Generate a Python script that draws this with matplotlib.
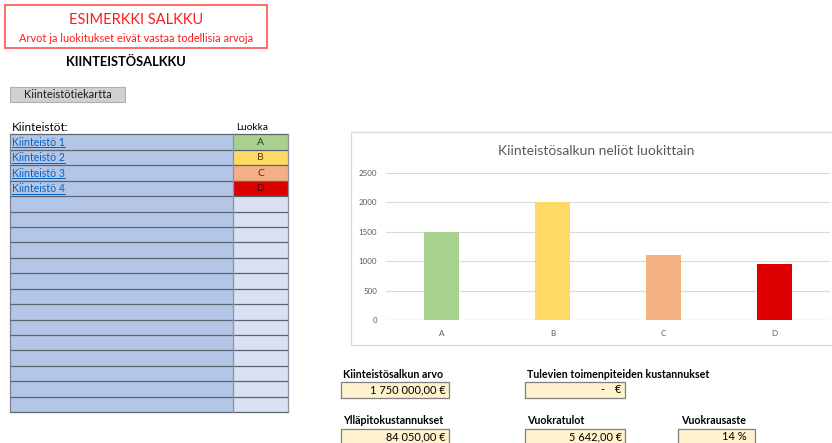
import matplotlib
matplotlib.use("Agg")
import matplotlib.pyplot as plt
from matplotlib.patches import Rectangle

plt.rcParams['font.family'] = ['Lato', 'DejaVu Sans']

# ---- data ----
categories = ['A', 'B', 'C', 'D']
area_values = [1500, 2000, 1100, 950]
bar_colors = ['#A9D18E', '#FFD966', '#F4B183', '#DE0000']
yticks = [0, 500, 1000, 1500, 2000, 2500]

property_names = ['Kiinteistö 1', 'Kiinteistö 2', 'Kiinteistö 3', 'Kiinteistö 4']
property_classes = ['A', 'B', 'C', 'D']
class_fill = {'A': '#A9D08E', 'B': '#FFD966', 'C': '#F4B084', 'D': '#DD0000'}
class_text = {'A': '#1F3A10', 'B': '#5A4500', 'C': '#5A2A10', 'D': '#5A0000'}
n_rows = 18

kpi_labels = ['Kiinteistösalkun arvo', 'Tulevien toimenpiteiden kustannukset',
              'Ylläpitokustannukset', 'Vuokratulot', 'Vuokrausaste']
kpi_values = ['1 750 000,00 €', '-', '84 050,00 €', '5 642,00 €', '14 %']

chart_title = 'Kiinteistösalkun neliöt luokittain'

# ---- figure ----
W, H = 832, 443
fig = plt.figure(figsize=(W / 100, H / 100), dpi=100)
bg = fig.add_axes([0, 0, 1, 1])
bg.set_xlim(0, W)
bg.set_ylim(H, 0)
bg.axis('off')

# red example box
bg.add_patch(Rectangle((5, 5), 262, 43, facecolor='white', edgecolor='#FF5050', lw=1.2))
bg.text(136, 20, 'ESIMERKKI SALKKU', color='#FF1A1A', fontsize=10.5, ha='center', va='center')
bg.text(136, 38.5, 'Arvot ja luokitukset eivät vastaa todellisia arvoja', color='#FF1A1A',
        fontsize=7.9, ha='center', va='center')

bg.text(126, 62, 'KIINTEISTÖSALKKU', fontsize=9.3, fontweight='bold', ha='center', va='center')

# button
bg.add_patch(Rectangle((10, 87), 115, 15, facecolor='#D0D0D0', edgecolor='#B0B0B0', lw=0.8))
bg.text(67.5, 94.8, 'Kiinteistötiekartta', fontsize=7.9, ha='center', va='center', color='#1A1A1A')

# table
tx0, tx1, tx2 = 10, 233, 288
ty0 = 134.3
rh = 15.44
bg.text(12, 127, 'Kiinteistöt:', fontsize=8.5, ha='left', va='center')
bg.text(252, 127, 'Luokka', fontsize=7.3, ha='center', va='center')
for i in range(n_rows):
    y = ty0 + i * rh
    bg.add_patch(Rectangle((tx0, y), tx1 - tx0, rh, facecolor='#B4C6E7', edgecolor='none'))
    if i < len(property_classes):
        fc = class_fill[property_classes[i]]
    else:
        fc = '#D9E1F2'
    bg.add_patch(Rectangle((tx1, y), tx2 - tx1, rh, facecolor=fc, edgecolor='none'))
for i in range(n_rows + 1):
    y = ty0 + i * rh
    bg.plot([tx0, tx2], [y, y], color='#5B6470', lw=0.9)
bg.plot([tx0, tx0], [ty0, ty0 + n_rows * rh], color='#7A8290', lw=0.9)
bg.plot([tx1, tx1], [ty0, ty0 + n_rows * rh], color='#8A92A0', lw=0.9)
bg.plot([tx2, tx2], [ty0, ty0 + n_rows * rh], color='#8A92A0', lw=0.9)

link_texts = []
for i, (name, cls) in enumerate(zip(property_names, property_classes)):
    yc = ty0 + (i + 0.5) * rh
    t = bg.text(12, yc + 0.3, name, fontsize=7.6, color='#0563C1', ha='left', va='center')
    link_texts.append((t, yc))
    bg.text((tx1 + tx2) / 2, yc + 0.3, cls, fontsize=7.5, color=class_text[cls], ha='center', va='center')

# chart frame
bg.add_patch(Rectangle((350.5, 132.3), 490, 212.7, facecolor='white', edgecolor='#D9D9D9', lw=0.9))
bg.text(596, 151, chart_title, fontsize=10.0, color='#595959', ha='center', va='center')

# KPI boxes
boxes = [
    (341, 381.5, 108),
    (525, 381.5, 100),
    (341, 428.5, 108),
    (525, 428.5, 100),
    (678, 428.5, 77),
]
label_x = [343, 527, 343, 527, 681]
for (bx, by, bw), lab, lx, val in zip(boxes, kpi_labels, label_x, kpi_values):
    bg.text(lx, by - 7.5, lab, fontsize=7.7, fontweight='bold', ha='left', va='center')
    bg.add_patch(Rectangle((bx, by), bw, 16, facecolor='#FFF2CC', edgecolor='#7F7F7F', lw=0.9))
    if val == '-':
        bg.text(bx + 77, by + 8, '-', fontsize=7.9, ha='center', va='center')
        bg.text(bx + bw - 4, by + 8, '€', fontsize=7.9, ha='right', va='center')
    else:
        rx = bx + bw - 3 if '%' not in val else bx + bw - 8
        bg.text(rx, by + 8, val, fontsize=7.9, ha='right', va='center')

# ---- bar chart ----
ax_left = 386 / W
ax_right = 830 / W
ax_bottom = (H - 320) / H
ax_top = (H - 172.7) / H
ax = fig.add_axes([ax_left, ax_bottom, ax_right - ax_left, ax_top - ax_bottom])
ax.patch.set_alpha(0)
xpos = list(range(len(categories)))
ax.bar(xpos, area_values, width=0.315, color=bar_colors, zorder=3)
ax.set_xlim(-0.5, len(categories) - 0.5)
ax.set_ylim(0, 2500)
ax.set_yticks(yticks)
ax.set_yticklabels([str(v) for v in yticks])
ax.set_xticks(xpos)
ax.set_xticklabels(categories)
ax.yaxis.grid(True, color='#D9D9D9', lw=0.8, zorder=0)
ax.set_axisbelow(True)
for s in ax.spines.values():
    s.set_visible(False)
ax.tick_params(axis='both', length=0, labelsize=5.8, labelcolor='#595959')
ax.tick_params(axis='y', pad=6.5)
ax.tick_params(axis='x', pad=7)
ax.axhline(0, color='#D9D9D9', lw=0.9, zorder=2)

# underline links
fig.canvas.draw()
renderer = fig.canvas.get_renderer()
inv = bg.transData.inverted()
for t, yc in link_texts:
    bb = t.get_window_extent(renderer)
    (x0, _), (x1, _) = inv.transform([[bb.x0, bb.y0], [bb.x1, bb.y1]])
    bg.plot([x0, x1], [yc + 5.4, yc + 5.4], color='#0563C1', lw=0.7)

fig.savefig('out.png', dpi=100)
